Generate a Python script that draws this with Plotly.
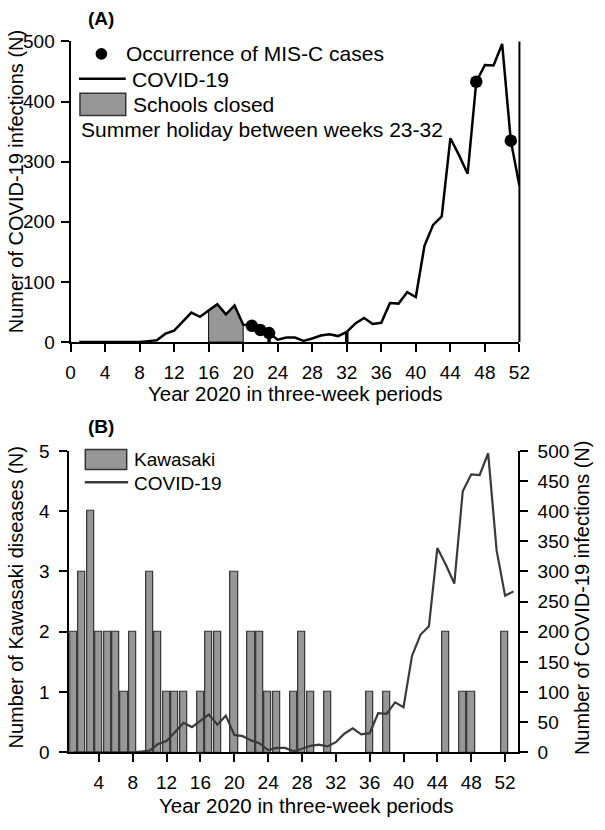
import plotly.graph_objects as go

# ---------------- data ----------------
weeks = list(range(1, 53))
covid = [0, 0, 0, 0, 0, 0, 0, 0, 1.5, 3,
         14, 19, 34, 49, 42, 52, 63, 46, 61, 29,
         27, 20, 15, 4, 7.5, 7.5, 2, 6, 11, 13,
         10, 17, 31, 40, 30, 32, 65, 64, 83, 75,
         160, 195, 209, 339, 311, 280, 433, 461, 460, 496,
         335, 260]
covid_b_extra_weeks = [53]
covid_b_extra = [267]
misc_weeks = [21, 22, 23, 47, 51]
school_closed = [16, 20]
summer_holiday = [23, 32]
kawasaki = [2, 3, 4, 2, 2, 2, 1, 2, 0, 3,
            2, 1, 1, 1, 0, 1, 2, 2, 0, 3,
            0, 2, 2, 1, 1, 0, 1, 2, 1, 0,
            1, 0, 0, 0, 0, 1, 0, 1, 0, 0,
            0, 0, 0, 0, 2, 0, 1, 1, 0, 0,
            0, 2]
ticks_a = list(range(0, 53, 4))
ticks_b = list(range(4, 53, 4))
yticks_a = [0, 100, 200, 300, 400, 500]
yticks_b = [0, 1, 2, 3, 4, 5]
yticks_b2 = list(range(0, 501, 50))

W, H = 605, 830
FONT = "Liberation Sans, Arial, sans-serif"
GRAY = "#979797"
EDGE = "#333333"
TICK_SIZE = 19


def X(px):
    return px / W


def Y(py):
    return 1 - py / H


fig = go.Figure()

# ---------------- panel A ----------------
cov_map = dict(zip(weeks, covid))
sc_x = [w for w in weeks if school_closed[0] <= w <= school_closed[1]]
sc_y = [cov_map[w] for w in sc_x]
fig.add_trace(go.Scatter(
    x=[sc_x[0]] + sc_x + [sc_x[-1], sc_x[0]],
    y=[0] + sc_y + [0, 0],
    fill="toself", fillcolor=GRAY, mode="lines",
    line=dict(color="black", width=1), xaxis="x", yaxis="y",
    hoverinfo="skip", showlegend=False))

fig.add_trace(go.Scatter(
    x=weeks, y=covid, mode="lines", line=dict(color="black", width=2.5),
    xaxis="x", yaxis="y", showlegend=False))

fig.add_trace(go.Scatter(
    x=misc_weeks, y=[cov_map[w] for w in misc_weeks], mode="markers",
    marker=dict(color="black", size=12.5), xaxis="x", yaxis="y",
    cliponaxis=False, showlegend=False))

shapes = []
for w in summer_holiday:
    shapes.append(dict(type="line", xref="x", yref="y", x0=w, x1=w,
                       y0=0, y1=cov_map[w], line=dict(color="black", width=3.5)))
# right border line in panel A
shapes.append(dict(type="line", xref="x domain", yref="y domain", x0=1, x1=1,
                   y0=0, y1=1, line=dict(color="black", width=2)))

# ---------------- panel B ----------------
kw_x = [w for w, k in zip(weeks, kawasaki) if k > 0]
kw_y = [k for k in kawasaki if k > 0]
fig.add_trace(go.Bar(
    x=kw_x, y=kw_y, width=0.84,
    marker=dict(color=GRAY, line=dict(color=EDGE, width=1.2)),
    xaxis="x2", yaxis="y2", showlegend=False))

fig.add_trace(go.Scatter(
    x=weeks + covid_b_extra_weeks, y=covid + covid_b_extra, mode="lines",
    line=dict(color="#3a3a3a", width=2.2), xaxis="x2", yaxis="y3",
    showlegend=False))

# ---------------- legends (manual) ----------------
# panel A legend
shapes.append(dict(type="circle", xref="paper", yref="paper",
                   x0=X(93), x1=X(105), y0=Y(51), y1=Y(39),
                   fillcolor="black", line=dict(color="black", width=0)))
shapes.append(dict(type="line", xref="paper", yref="paper",
                   x0=X(76), x1=X(124), y0=Y(70.5), y1=Y(70.5),
                   line=dict(color="black", width=2.5)))
shapes.append(dict(type="rect", xref="paper", yref="paper",
                   x0=X(77), x1=X(124), y0=Y(108.3), y1=Y(85.5),
                   fillcolor=GRAY, line=dict(color=EDGE, width=1.5)))
# panel B legend
shapes.append(dict(type="rect", xref="paper", yref="paper",
                   x0=X(82.5), x1=X(125), y0=Y(471.5), y1=Y(451),
                   fillcolor=GRAY, line=dict(color=EDGE, width=1.5)))
shapes.append(dict(type="line", xref="paper", yref="paper",
                   x0=X(82), x1=X(126.5), y0=Y(484.5), y1=Y(484.5),
                   line=dict(color="#3a3a3a", width=2.5)))


def txt(text, px, py, size=21, xanchor="left", angle=0, bold=False):
    return dict(text=("<b>%s</b>" % text) if bold else text,
                x=X(px), y=Y(py), xref="paper", yref="paper",
                xanchor=xanchor, yanchor="middle", showarrow=False,
                textangle=angle, font=dict(family=FONT, size=size, color="black"))


annotations = [
    txt("(A)", 98.5, 9, size=19, xanchor="center", bold=True),
    txt("(B)", 98.5, 427, size=19, xanchor="center", bold=True),
    txt("Occurrence of MIS-C cases", 122, 45),
    txt("COVID-19", 128, 71),
    txt("Schools closed", 129, 97),
    txt("Summer holiday between weeks 23-32", 75.5, 123),
    txt("Kawasaki", 130, 461.5, size=19),
    txt("COVID-19", 130, 485.5, size=19),
    txt("Year 2020 in three-week periods", 298, 393, size=20.5, xanchor="center"),
    txt("Year 2020 in three-week periods", 309, 816, size=20.5, xanchor="center"),
    txt("Numer of COVID-19 infections (N)", 11, 176, size=20, xanchor="center", angle=-90),
    txt("Number of Kawasaki diseases (N)", 11, 603, size=20, xanchor="center", angle=-90),
    txt("Number of COVID-19 infections (N)", 592, 603, size=20, xanchor="center", angle=-90),
]

axis_common = dict(showline=True, linecolor="black", linewidth=2, ticks="outside",
                   ticklen=8, tickwidth=2, tickcolor="black", showgrid=False,
                   zeroline=False, tickfont=dict(family=FONT, size=TICK_SIZE, color="black"))

fig.update_layout(
    width=W, height=H, margin=dict(l=0, r=0, t=0, b=0),
    paper_bgcolor="white", plot_bgcolor="rgba(0,0,0,0)",
    showlegend=False, bargap=0,
    xaxis=dict(domain=[X(67.3), X(528.4)], anchor="y", range=[0, 52],
               tickvals=ticks_a, ticklabelstandoff=4, **axis_common),
    yaxis=dict(domain=[Y(340.7), Y(32.3)], anchor="x", range=[0, 500],
               tickvals=yticks_a, ticklabelstandoff=2, **axis_common),
    xaxis2=dict(domain=[X(66), X(526.7)], anchor="y2", range=[0.5, 53.5],
                tickvals=ticks_b, ticklabelstandoff=4, **axis_common),
    yaxis2=dict(domain=[Y(761.7), Y(452.3)], anchor="x2", range=[0, 5],
                tickvals=yticks_b, ticklabelstandoff=6, **axis_common),
    yaxis3=dict(overlaying="y2", anchor="x2", side="right", range=[0, 500],
                tickvals=yticks_b2, ticklabelstandoff=6, **axis_common),
    shapes=shapes, annotations=annotations,
)

fig.write_html("out.html", config={"displayModeBar": False},
               post_script="document.body.style.margin='0px';document.body.style.padding='0px';")
